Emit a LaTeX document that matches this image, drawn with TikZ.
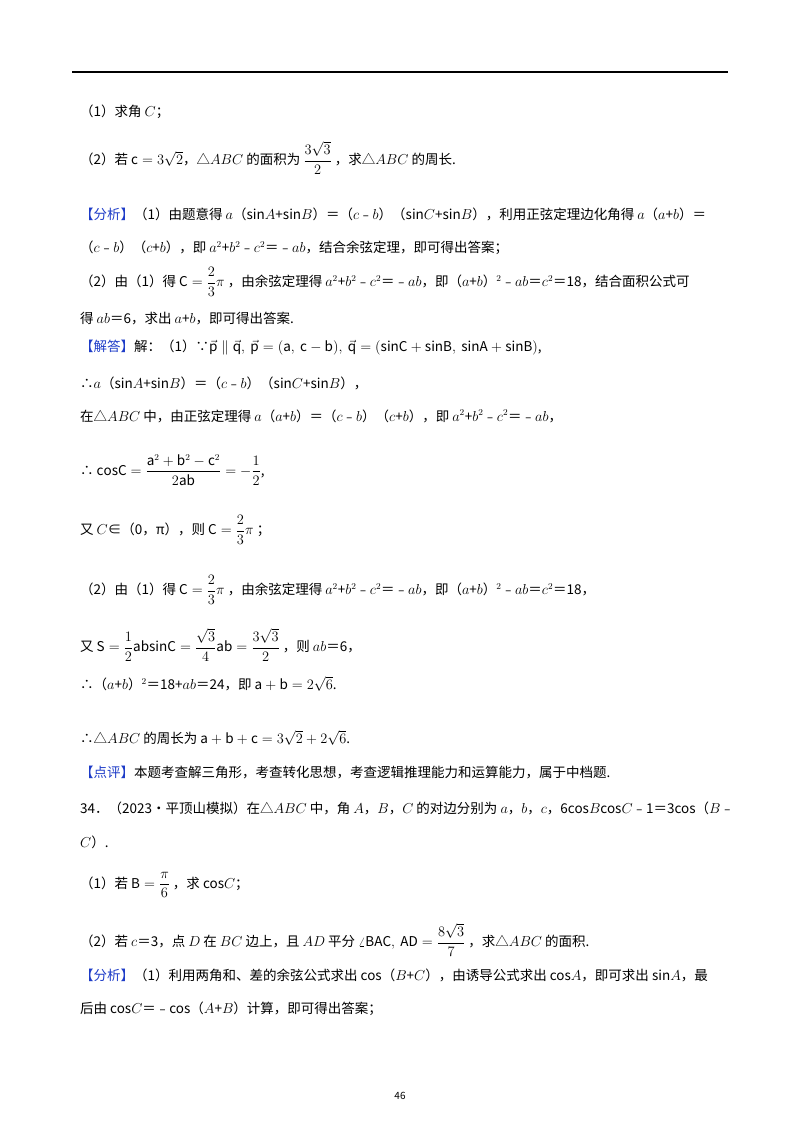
\documentclass[tikz,border=0pt]{standalone}
\usepackage{amsmath}
\usepackage{fontspec}
\setmainfont{Noto Sans CJK SC}
\definecolor{hl}{RGB}{30,60,200}
\tikzset{ln/.style={anchor=west,inner sep=0pt,font=\fontsize{13.5}{16}\selectfont}}
\newcommand{\hb}[1]{\textcolor{hl}{【#1】}}
\begin{document}
\begin{tikzpicture}[x=1pt,y=-1pt]
\useasboundingbox (0,0) rectangle (800,1132);
\fill[white] (0,0) rectangle (800,1132);
\draw[line width=1.5pt] (72,72) -- (728,72);
\node[ln] (l1) at (80,112) {（1）求角 $C$；};
\node[ln] (l2) at (80,158) {（2）若 $\mathrm{c}=3\sqrt{2}$，△$ABC$ 的面积为 $\dfrac{3\sqrt{3}}{2}$ ，求△$ABC$ 的周长.};
\node[ln] (l3) at (80,214) {\hb{分析}（1）由题意得 $a$（sin$A$+sin$B$）＝（$c$﹣$b$）（sin$C$+sin$B$），利用正弦定理边化角得 $a$（$a$+$b$）＝};
\node[ln] (l4) at (80,248) {（$c$﹣$b$）（$c$+$b$），即 $a^2$+$b^2$﹣$c^2$＝﹣$ab$，结合余弦定理，即可得出答案；};
\node[ln] (l5) at (80,282) {（2）由（1）得 $\mathrm{C}=\dfrac{2}{3}\pi$ ，由余弦定理得 $a^2$+$b^2$﹣$c^2$＝﹣$ab$，即（$a$+$b$）$^2$﹣$ab$＝$c^2$＝18，结合面积公式可};
\node[ln] (l6) at (80,319) {得 $ab$＝6，求出 $a$+$b$，即可得出答案.};
\node[ln] (l7) at (80,348) {\hb{解答}解：（1）∵$\vec{\mathrm{p}}\parallel\vec{\mathrm{q}},\ \vec{\mathrm{p}}=(\mathrm{a},\ \mathrm{c-b}),\ \vec{\mathrm{q}}=(\mathrm{sinC+sinB},\ \mathrm{sinA+sinB})$,};
\node[ln] (l8) at (80,383) {∴$a$（sin$A$+sin$B$）＝（$c$﹣$b$）（sin$C$+sin$B$），};
\node[ln] (l9) at (80,416) {在△$ABC$ 中，由正弦定理得 $a$（$a$+$b$）＝（$c$﹣$b$）（$c$+$b$），即 $a^2$+$b^2$﹣$c^2$＝﹣$ab$，};
\node[ln] (l10) at (80,470) {∴ $\mathrm{cosC}=\dfrac{\mathrm{a}^2+\mathrm{b}^2-\mathrm{c}^2}{2\mathrm{ab}}=-\dfrac{1}{2}$,};
\node[ln] (l11) at (80,530) {又 $C$∈（0，π），则 $\mathrm{C}=\dfrac{2}{3}\pi$ ；};
\node[ln] (l12) at (80,590) {（2）由（1）得 $\mathrm{C}=\dfrac{2}{3}\pi$ ，由余弦定理得 $a^2$+$b^2$﹣$c^2$＝﹣$ab$，即（$a$+$b$）$^2$﹣$ab$＝$c^2$＝18，};
\node[ln] (l13) at (80,645) {又 $\mathrm{S}=\dfrac{1}{2}\mathrm{absinC}=\dfrac{\sqrt{3}}{4}\mathrm{ab}=\dfrac{3\sqrt{3}}{2}$ ，则 $ab$＝6，};
\node[ln] (l14) at (80,684) {∴（$a$+$b$）$^2$＝18+$ab$＝24，即 $\mathrm{a+b}=2\sqrt{6}$.};
\node[ln] (l15) at (80,738) {∴△$ABC$ 的周长为 $\mathrm{a+b+c}=3\sqrt{2}+2\sqrt{6}$.};
\node[ln] (l16) at (80,773) {\hb{点评}本题考查解三角形，考查转化思想，考查逻辑推理能力和运算能力，属于中档题.};
\node[ln] (l17) at (80,808) {34．（2023•平顶山模拟）在△$ABC$ 中，角 $A$，$B$，$C$ 的对边分别为 $a$，$b$，$c$，6cos$B$cos$C$﹣1＝3cos（$B$﹣};
\node[ln] (l18) at (80,842) {$C$）.};
\node[ln] (l19) at (80,885) {（1）若 $\mathrm{B}=\dfrac{\pi}{6}$ ，求 cos$C$；};
\node[ln] (l20) at (80,940) {（2）若 $c$＝3，点 $D$ 在 $BC$ 边上，且 $AD$ 平分 $\angle\mathrm{BAC},\ \mathrm{AD}=\dfrac{8\sqrt{3}}{7}$ ，求△$ABC$ 的面积.};
\node[ln] (l21) at (80,975) {\hb{分析}（1）利用两角和、差的余弦公式求出 cos（$B$+$C$），由诱导公式求出 cos$A$，即可求出 sin$A$，最};
\node[ln] (l22) at (80,1009) {后由 cos$C$＝﹣cos（$A$+$B$）计算，即可得出答案；};
\node[inner sep=0pt,font=\fontsize{10}{12}\selectfont] (pg) at (400,1096) {46};
\end{tikzpicture}
\end{document}
